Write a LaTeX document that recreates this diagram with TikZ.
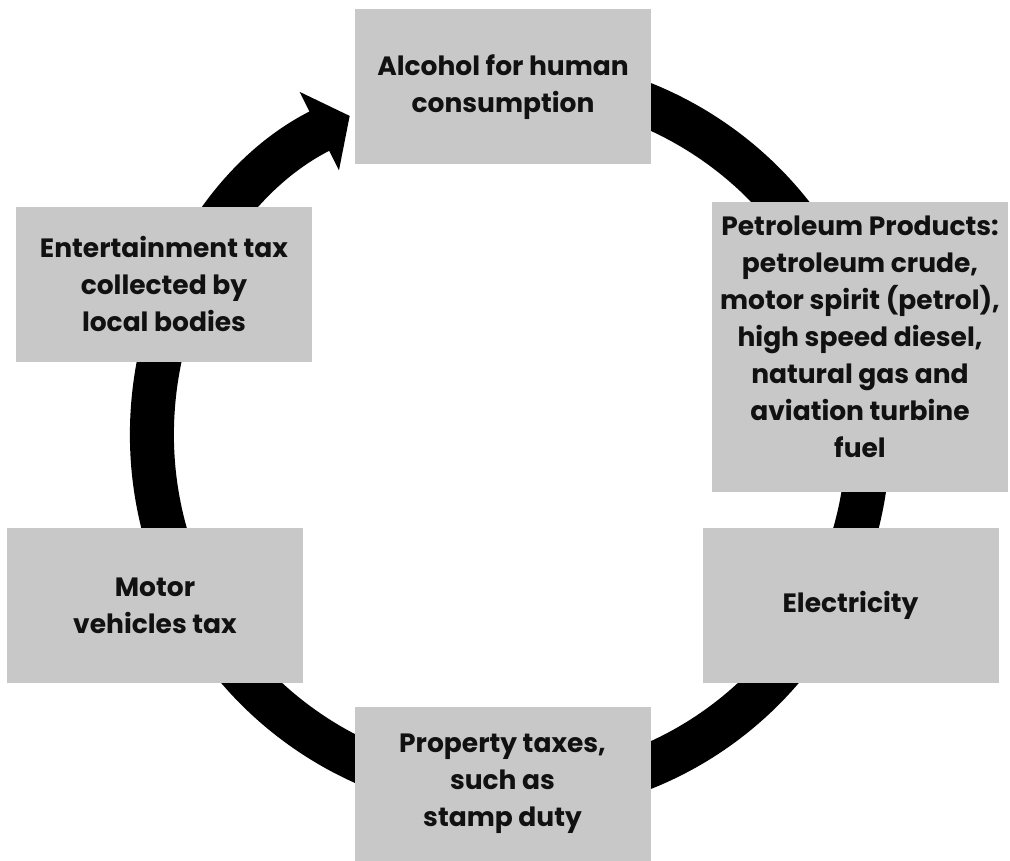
\documentclass[tikz,border=0pt]{standalone}
\usepackage{fontspec}
\setmainfont{Poppins}
\usepackage{tikz}
\usetikzlibrary{arrows.meta,positioning,calc}
\usepackage{xcolor}
\definecolor{boxgray}{RGB}{200,200,200}
\definecolor{inkblack}{RGB}{17,17,17}
\tikzset{
  taxbox/.style={rectangle, fill=boxgray, draw=none, inner sep=0pt,
                 minimum width=296pt, minimum height=155pt, align=center,
                 text=inkblack, font=\fontsize{26.5}{37}\selectfont\bfseries},
  ring/.style={line width=44pt, black, -{Triangle[length=34pt, width=86pt]}},
}
\begin{document}
\begin{tikzpicture}[x=1pt, y=1pt]
\useasboundingbox (0,0) rectangle (1010,861);
\coordinate (hub) at (510,425);
% the cycle behind the boxes
\draw[ring] ($(hub)+(100:358)$) arc[start angle=100, end angle=-243.4, radius=358];
\node[taxbox] (alcohol) at (503,774) {Alcohol for human\\consumption};
\node[taxbox, minimum height=290pt, text depth=20pt] (petrol) at (860,514)
  {Petroleum Products:\\petroleum crude,\\motor spirit (petrol),\\high speed diesel,\\natural gas and\\aviation turbine\\fuel};
\node[taxbox] (power) at (850.5,255.5) {Electricity};
\node[taxbox, minimum height=154pt] (property) at (502.5,77) {Property taxes,\\such as\\stamp duty};
\node[taxbox] (motor) at (155,255.5) {Motor\\vehicles tax};
\node[taxbox] (leisure) at (164,576.5) {Entertainment tax\\collected by\\local bodies};
\end{tikzpicture}
\end{document}
